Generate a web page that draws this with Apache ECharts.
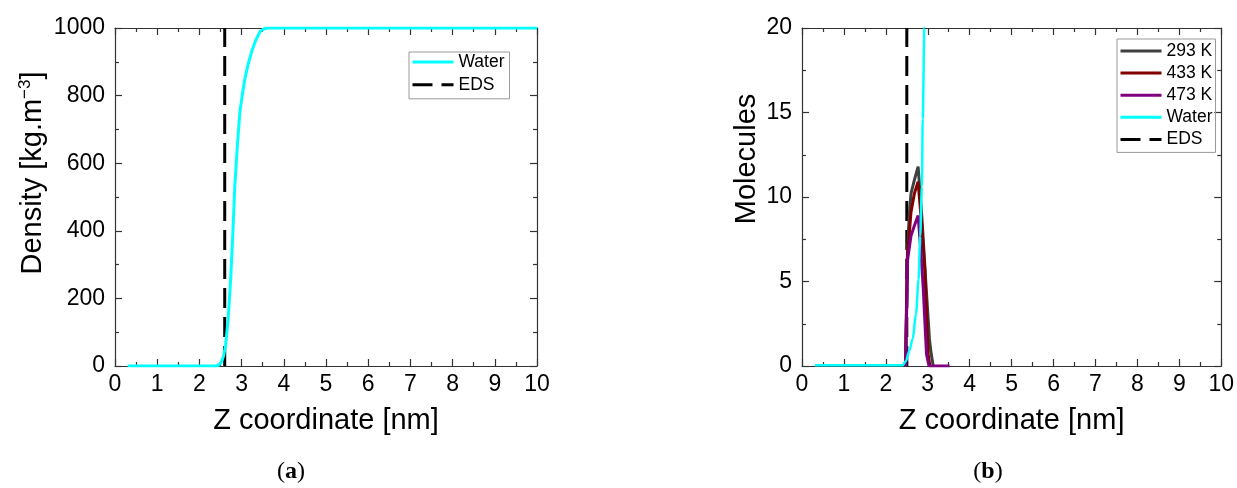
<!DOCTYPE html>
<html><head><meta charset="utf-8">
<script src="https://cdn.jsdelivr.net/npm/echarts@6/dist/echarts.min.js"></script>
<style>html,body{margin:0;padding:0;background:#fff}#c{width:1237px;height:488px}</style>
</head><body><div id="c"></div>
<script>
// ---- Panel (a): density profile ----
const zWaterA    = [0.3, 1, 2, 2.4, 2.46, 2.52, 2.57, 2.62, 2.68, 2.74, 2.79, 2.84, 2.9, 2.96, 3.02, 3.08, 3.16, 3.24, 3.34, 3.44, 3.52, 3.6, 4, 5, 6, 7, 8, 9, 10];
const densWaterA = [0, 0, 0, 0, 3, 12, 28, 60, 137, 256, 385, 534, 653, 752, 805, 851, 895, 931, 965, 990, 997, 1000, 1000, 1000, 1000, 1000, 1000, 1000, 1000];
const edsA = 2.6;
const densRangeA = [0, 1000];

// ---- Panel (b): molecule profiles ----
const zWaterB = [0.31, 1, 2, 2.4, 2.48, 2.56, 2.64, 2.72, 2.78, 2.82, 2.86, 2.88, 2.92, 2.96];
const molWaterB = [0.05, 0.05, 0.05, 0.05, 0.3, 0.9, 1.6, 3.1, 5.1, 7.7, 10.6, 14.6, 20, 26];
const z293 = [2.47, 2.52, 2.56, 2.60, 2.68, 2.77, 2.86, 2.96, 3.04, 3.08, 3.13];
const mol293 = [0, 7.0, 9.0, 10.2, 11.0, 11.8, 8.8, 4.7, 1.6, 0.75, 0];
const z433 = [2.47, 2.51, 2.60, 2.68, 2.77, 2.85, 2.93, 3.01, 3.05];
const mol433 = [0, 6.3, 9.1, 10.2, 10.9, 8.5, 5.7, 0.7, 0];
const z473 = [2.47, 2.52, 2.60, 2.68, 2.77, 2.83, 2.89, 2.97, 3.03, 3.52];
const mol473 = [0, 6.3, 7.7, 8.3, 8.9, 7.0, 4.7, 0.7, 0, 0];
const edsB = 2.5;
const molRangeB = [0, 20];

const legendA = ['Water', 'EDS'];
const legendB = ['293 K', '433 K', '473 K', 'Water', 'EDS'];

const zip = (xs, ys) => xs.map((x, i) => [x, ys[i]]);
const FONT = "'Liberation Sans', Arial, sans-serif";
const SERIF = "'Liberation Serif', serif";
const AX = '#333';

function xAx(grid, top) {
  return {
    type: 'value', gridIndex: grid, position: top ? 'top' : 'bottom',
    min: 0, max: 10, interval: 1,
    axisLine: { show: true, onZero: false, lineStyle: { color: AX, width: 1.2 } },
    axisTick: { show: true, inside: true, length: 7, lineStyle: { color: AX, width: 1.2 } },
    minorTick: { show: true, splitNumber: 2, length: 4, lineStyle: { color: AX, width: 1.2 } },
    splitLine: { show: false },
    axisLabel: { show: !top, fontSize: 23, color: '#000', fontFamily: FONT, margin: 7, formatter: v => String(v) },
    name: top ? '' : 'Z coordinate [nm]', nameLocation: 'middle', nameGap: 40,
    nameTextStyle: { fontSize: 29, color: '#000', fontFamily: FONT }
  };
}
function yAx(grid, right, max, interval, name, gap, pad, rich) {
  return {
    type: 'value', gridIndex: grid, position: right ? 'right' : 'left',
    min: 0, max: max, interval: interval,
    axisLine: { show: true, onZero: false, lineStyle: { color: AX, width: 1.2 } },
    axisTick: { show: true, inside: true, length: 7, lineStyle: { color: AX, width: 1.2 } },
    minorTick: { show: true, splitNumber: 2, length: 4, lineStyle: { color: AX, width: 1.2 } },
    splitLine: { show: false },
    axisLabel: { show: !right, fontSize: 23, color: '#000', fontFamily: FONT, margin: 10, formatter: v => String(v) },
    name: right ? '' : name, nameLocation: 'middle', nameGap: gap,
    nameTextStyle: { fontSize: 29, color: '#000', fontFamily: FONT, padding: pad, rich: rich }
  };
}
const legendCommon = {
  orient: 'vertical', itemWidth: 41, itemHeight: 14, borderColor: '#999', borderWidth: 1, borderRadius: 0,
  textStyle: { fontSize: 17.5, color: '#000', fontFamily: FONT }, selectedMode: false,
  itemStyle: { opacity: 0 }, lineStyle: { width: 3 }
};

const chart = echarts.init(document.getElementById('c'));
chart.setOption({
  animation: false,
  backgroundColor: '#fff',
  textStyle: { fontFamily: FONT },
  grid: [
    { left: 115, right: 700, top: 28, bottom: 122 },
    { left: 802, right: 15, top: 28, bottom: 122 }
  ],
  xAxis: [xAx(0, false), xAx(0, true), xAx(1, false), xAx(1, true)],
  yAxis: [
    yAx(0, false, densRangeA[1], 200, 'Density [kg.m{sup|−3}]', 67, [0, 0, 0, 48],
      { sup: { fontSize: 17, fontFamily: FONT, color: '#000', verticalAlign: 'top', padding: [0, 0, 14, 0] } }),
    yAx(0, true, densRangeA[1], 200, ''),
    yAx(1, false, molRangeB[1], 5, 'Molecules', 41, [0, 0, 0, 76]),
    yAx(1, true, molRangeB[1], 5, '')
  ],
  legend: [
    Object.assign({}, legendCommon, { data: legendA, left: 409, top: 52, itemGap: 4.8, padding: [1, 5, 5, 2] }),
    Object.assign({}, legendCommon, { data: legendB, left: 1117, top: 39, itemGap: 4.1, padding: [3, 3, 4, 2] })
  ],
  title: [
    { text: '({b|a})', left: 286, top: 455, textAlign: 'center',
      textStyle: { fontSize: 24, fontWeight: 'normal', color: '#000', fontFamily: SERIF,
        rich: { b: { fontSize: 24, fontWeight: 'bold', color: '#000', fontFamily: SERIF } } } },
    { text: '({b|b})', left: 983, top: 455, textAlign: 'center',
      textStyle: { fontSize: 24, fontWeight: 'normal', color: '#000', fontFamily: SERIF,
        rich: { b: { fontSize: 24, fontWeight: 'bold', color: '#000', fontFamily: SERIF } } } }
  ],
  series: [
    { name: 'EDS', type: 'line', xAxisIndex: 0, yAxisIndex: 0, symbol: 'none', z: 1,
      data: zip([edsA, edsA], densRangeA), lineStyle: { color: '#000', width: 3, type: [20, 9] }, itemStyle: { color: '#000' } },
    { name: 'Water', type: 'line', xAxisIndex: 0, yAxisIndex: 0, symbol: 'none', z: 2,
      data: zip(zWaterA, densWaterA), lineStyle: { color: '#00FFFF', width: 3 }, itemStyle: { color: '#00FFFF' } },

    { name: 'EDS', type: 'line', xAxisIndex: 2, yAxisIndex: 2, symbol: 'none', z: 1,
      data: zip([edsB, edsB], molRangeB), lineStyle: { color: '#000', width: 3, type: [20, 9] }, itemStyle: { color: '#000' } },
    { name: '293 K', type: 'line', xAxisIndex: 2, yAxisIndex: 2, symbol: 'none', z: 2,
      data: zip(z293, mol293), lineStyle: { color: '#404040', width: 3 }, itemStyle: { color: '#404040' } },
    { name: '433 K', type: 'line', xAxisIndex: 2, yAxisIndex: 2, symbol: 'none', z: 3,
      data: zip(z433, mol433), lineStyle: { color: '#800000', width: 3 }, itemStyle: { color: '#800000' } },
    { name: '473 K', type: 'line', xAxisIndex: 2, yAxisIndex: 2, symbol: 'none', z: 4,
      data: zip(z473, mol473), lineStyle: { color: '#800080', width: 3 }, itemStyle: { color: '#800080' } },
    { name: 'Water', type: 'line', xAxisIndex: 2, yAxisIndex: 2, symbol: 'none', z: 5, smooth: 0.3, smoothMonotone: 'x',
      data: zip(zWaterB, molWaterB), lineStyle: { color: '#00FFFF', width: 2.5 }, itemStyle: { color: '#00FFFF' } }
  ]
});
</script>
</body></html>
